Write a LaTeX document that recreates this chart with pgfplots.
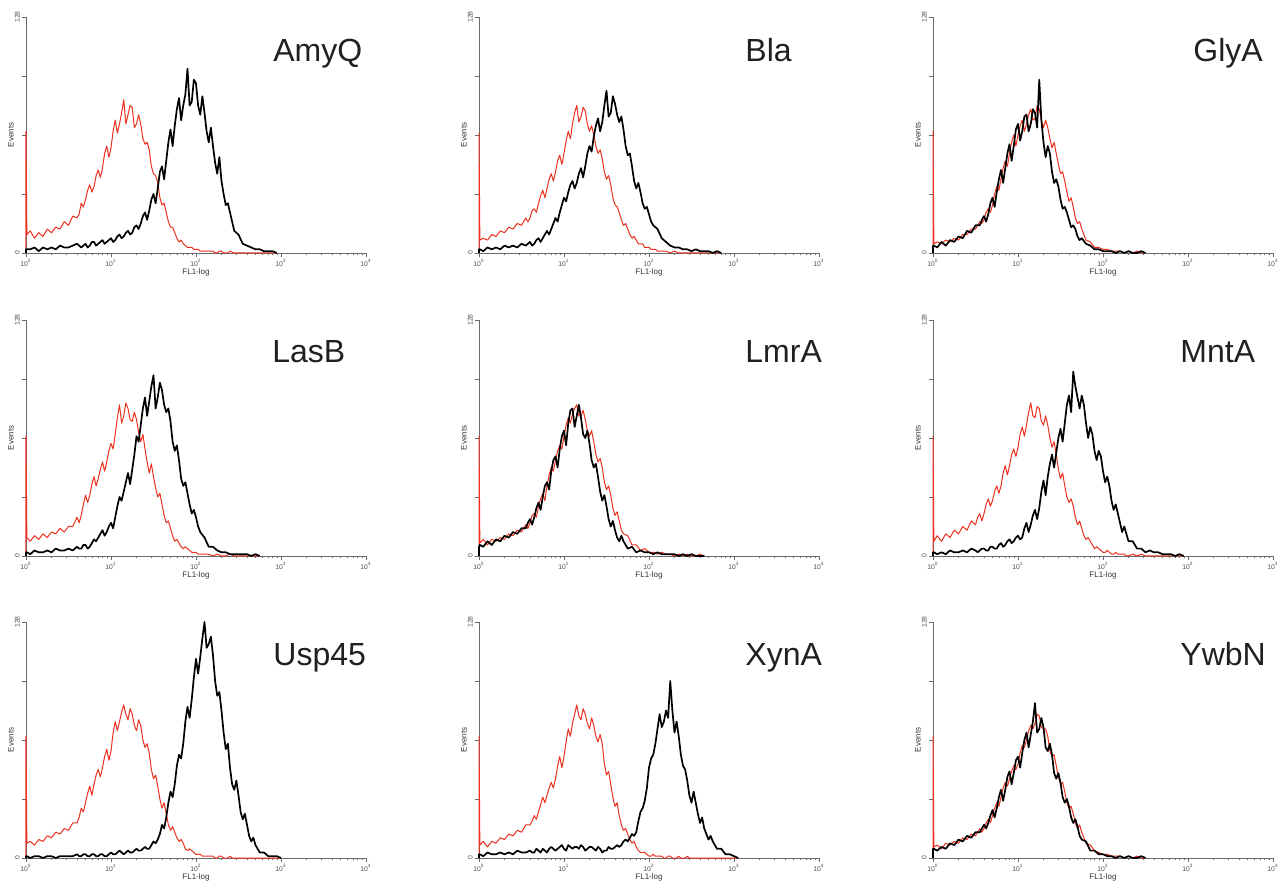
\documentclass[border=0pt]{standalone}
\usepackage{fontspec}
\setmainfont{Liberation Sans}
\usepackage{pgfplots}
\usepackage{pgfplotstable}
\pgfplotsset{compat=1.18}
\definecolor{ctl}{RGB}{235,48,30}
\definecolor{axgray}{RGB}{105,105,105}
\definecolor{ttl}{RGB}{35,31,32}

% columns: log10(FL1), control (red), sample (black)
\pgfplotstableread{
d r b
0 0 0
0 66 2
0.01 10 2
0.05 12 2
0.10 8 3
0.15 11 1
0.20 9 3
0.25 13 2
0.30 11 3
0.35 14 2
0.40 13 4
0.45 17 3
0.50 15 3
0.55 20 4
0.60 19 5
0.625 21 4
0.65 27 3
0.675 25 4
0.70 29 5
0.725 34 3
0.75 37 4
0.775 33 6
0.80 36 6
0.825 42 4
0.85 45 5
0.875 41 6
0.90 46 7
0.925 54 5
0.95 58 6
0.975 52 7
1.00 57 8
1.025 66 6
1.05 72 7
1.075 65 9
1.10 70 10
1.125 76 8
1.15 83 9
1.175 70 11
1.20 75 12
1.225 80 10
1.25 79 11
1.275 68 14
1.30 70 15
1.325 75 13
1.35 70 16
1.375 62 20
1.40 59 22
1.425 60 18
1.45 56 23
1.475 47 29
1.50 43 32
1.525 42 27
1.55 38 35
1.575 30 44
1.60 26 47
1.625 27 40
1.65 22 50
1.675 17 60
1.70 14 67
1.725 14 58
1.75 11 69
1.775 8 78
1.80 6 84
1.825 7 72
1.85 5 80
1.875 4 86
1.90 3 100
1.925 3 80
1.95 3 82
1.975 2 94
2.00 2 92
2.025 2 80
2.05 1 75
2.075 1 85
2.10 1 76
2.125 1 66
2.15 1 60
2.175 1 68
2.20 1 58
2.225 0 49
2.25 0 43
2.275 1 52
2.30 1 39
2.325 0 32
2.35 0 26
2.375 0 27
2.40 1 22
2.45 0 12
2.50 0 10
2.55 0 5
2.60 0 4
2.65 0 3
2.70 0 2
2.75 0 2
2.80 0 1
2.85 0 1
2.90 0 1
2.95 0 0
}\tAmyQ

\pgfplotstableread{
d r b
0 0 0
0 65 2
0.01 7 2
0.05 8 1
0.10 7 3
0.15 10 2
0.20 9 3
0.25 12 2
0.30 11 4
0.35 14 3
0.40 13 4
0.45 16 3
0.50 15 5
0.55 19 4
0.575 17 5
0.60 19 6
0.625 23 4
0.65 24 5
0.675 22 7
0.70 27 8
0.725 31 6
0.75 34 8
0.775 30 10
0.80 35 12
0.825 40 10
0.85 43 13
0.875 39 16
0.90 44 19
0.925 50 17
0.95 53 22
0.975 48 26
1.00 54 30
1.025 61 28
1.05 66 33
1.075 62 37
1.10 70 39
1.125 76 35
1.15 80 38
1.175 71 43
1.20 74 46
1.225 79 41
1.25 77 47
1.275 70 54
1.30 66 58
1.325 69 55
1.35 64 63
1.375 58 69
1.40 54 73
1.425 56 66
1.45 51 71
1.475 44 80
1.50 40 88
1.525 42 74
1.55 37 76
1.575 30 85
1.60 26 81
1.625 25 75
1.65 22 71
1.675 18 74
1.70 15 67
1.725 16 58
1.75 13 53
1.775 10 54
1.80 8 47
1.825 9 39
1.85 7 35
1.875 5 38
1.90 5 33
1.925 5 27
1.95 3 24
1.975 3 25
2.00 3 21
2.025 2 17
2.05 2 15
2.075 2 14
2.10 1 13
2.15 1 8
2.20 1 6
2.25 0 4
2.30 1 3
2.35 0 3
2.40 0 2
2.45 0 2
2.50 0 1
2.55 0 2
2.60 0 1
2.65 0 1
2.70 0 1
2.75 0 0
2.80 0 1
2.85 0 0
}\tBla

\pgfplotstableread{
d r b
0 0 0
0 66 4
0.01 5 4
0.05 6 3
0.10 5 6
0.15 7 4
0.20 6 7
0.25 8 6
0.30 7 9
0.35 10 8
0.40 10 12
0.45 13 11
0.50 13 15
0.55 17 15
0.575 16 18
0.60 18 20
0.625 22 17
0.65 24 21
0.675 22 27
0.70 26 30
0.725 32 25
0.75 36 33
0.775 34 40
0.80 40 45
0.825 46 38
0.85 50 46
0.875 47 54
0.90 54 59
0.925 60 50
0.95 64 58
0.975 58 67
1.00 64 70
1.025 69 61
1.05 72 66
1.075 66 74
1.10 70 75
1.125 75 66
1.15 78 70
1.175 72 78
1.20 73 76
1.225 80 68
1.25 78 94
1.275 72 72
1.30 68 60
1.325 72 52
1.35 68 58
1.375 62 54
1.40 57 44
1.425 60 38
1.45 54 40
1.475 48 36
1.50 43 29
1.525 44 24
1.55 39 25
1.575 33 22
1.60 28 18
1.625 30 14
1.65 25 15
1.675 19 13
1.70 16 9
1.725 17 7
1.75 13 8
1.80 7 5
1.85 6 4
1.90 3 2
1.95 3 2
2.00 2 1
2.05 2 1
2.10 1 1
2.15 1 0
2.20 1 1
2.25 0 0
2.30 1 1
2.35 0 0
2.40 1 0
2.45 0 1
2.50 0 0
}\tGlyA

\pgfplotstableread{
d r b
0 0 0
0 65 2
0.01 10 2
0.05 8 1
0.10 11 3
0.15 9 2
0.20 12 2
0.25 10 3
0.30 13 2
0.35 12 4
0.40 15 3
0.45 13 3
0.50 16 4
0.55 16 3
0.60 21 5
0.625 18 4
0.65 22 4
0.675 28 6
0.70 33 6
0.725 29 4
0.75 33 5
0.775 39 7
0.80 43 9
0.825 38 8
0.85 42 10
0.875 47 12
0.90 51 14
0.925 46 11
0.95 51 13
0.975 57 16
1.00 61 18
1.025 58 15
1.05 66 21
1.075 75 27
1.10 82 32
1.125 72 30
1.15 76 35
1.175 83 40
1.20 80 45
1.225 74 39
1.25 73 47
1.275 78 55
1.30 74 65
1.325 67 62
1.35 62 71
1.375 66 80
1.40 58 86
1.425 51 76
1.45 45 84
1.475 50 92
1.50 43 98
1.525 37 80
1.55 32 86
1.575 34 94
1.60 28 90
1.625 22 82
1.65 18 78
1.675 19 80
1.70 15 73
1.725 11 62
1.75 8 57
1.775 9 60
1.80 7 52
1.825 5 42
1.85 4 38
1.875 5 40
1.90 4 34
1.925 3 28
1.95 2 23
1.975 2 25
2.00 2 21
2.025 1 16
2.05 1 13
2.10 1 10
2.15 1 5
2.20 0 5
2.25 1 3
2.30 0 2
2.35 0 2
2.40 1 1
2.45 0 1
2.50 0 1
2.55 0 1
2.60 0 1
2.65 0 0
2.70 0 1
2.75 0 0
}\tLasB

\pgfplotstableread{
d r b
0 0 0
0 65 5
0.01 7 6
0.05 9 5
0.10 6 8
0.15 9 6
0.20 8 9
0.25 10 8
0.30 9 11
0.35 12 10
0.40 11 13
0.45 14 12
0.50 13 15
0.55 17 15
0.575 15 18
0.60 18 20
0.625 22 17
0.65 23 21
0.675 21 26
0.70 27 29
0.725 31 25
0.75 34 32
0.775 30 38
0.80 38 40
0.825 44 36
0.85 48 46
0.875 46 52
0.90 52 54
0.925 57 48
0.95 60 58
0.975 58 65
1.00 65 68
1.025 71 60
1.05 75 72
1.075 72 79
1.10 77 80
1.125 80 70
1.15 82 76
1.175 76 82
1.20 76 75
1.225 79 66
1.25 74 64
1.275 68 68
1.30 65 61
1.325 68 52
1.35 62 48
1.375 55 50
1.40 51 43
1.425 53 35
1.45 48 30
1.475 40 33
1.50 36 27
1.525 38 20
1.55 33 16
1.575 26 19
1.60 22 14
1.625 24 10
1.65 19 8
1.675 14 11
1.70 12 8
1.75 11 4
1.80 6 5
1.85 6 2
1.90 3 3
1.95 4 2
2.00 2 2
2.05 2 1
2.10 1 2
2.15 2 1
2.20 1 1
2.25 1 1
2.30 0 1
2.35 1 0
2.40 0 1
2.45 1 0
2.50 0 1
2.55 0 0
2.60 1 0
2.65 0 0
}\tLmrA

\pgfplotstableread{
d r b
0 0 0
0 65 2
0.01 8 2
0.05 11 1
0.10 8 2
0.15 12 1
0.20 10 3
0.25 14 2
0.30 12 2
0.35 16 3
0.40 14 2
0.45 19 4
0.50 17 3
0.525 21 2
0.55 23 3
0.575 19 4
0.60 23 4
0.625 28 3
0.65 31 3
0.675 27 5
0.70 30 5
0.725 35 4
0.75 38 4
0.775 34 6
0.80 38 7
0.825 45 5
0.85 49 6
0.875 44 8
0.90 49 9
0.925 55 7
0.95 58 8
0.975 54 10
1.00 59 11
1.025 66 9
1.05 70 10
1.075 65 15
1.10 71 18
1.125 78 13
1.15 83 17
1.175 76 22
1.20 75 25
1.225 81 20
1.25 80 26
1.275 73 35
1.30 71 41
1.325 76 33
1.35 71 43
1.375 64 50
1.40 59 55
1.425 62 48
1.45 55 56
1.475 47 64
1.50 42 69
1.525 45 62
1.55 38 72
1.575 32 82
1.60 29 87
1.625 31 78
1.65 27 100
1.675 21 92
1.70 17 86
1.725 19 80
1.75 15 87
1.775 11 82
1.80 9 72
1.825 10 64
1.85 8 70
1.875 6 66
1.90 4 57
1.925 5 52
1.95 4 57
1.975 3 54
2.00 2 46
2.025 2 40
2.05 3 43
2.075 2 38
2.10 1 30
2.125 1 25
2.15 2 28
2.175 1 23
2.20 1 18
2.225 1 13
2.25 1 16
2.275 0 12
2.30 0 8
2.35 1 8
2.40 0 4
2.45 1 4
2.50 0 2
2.55 0 3
2.60 0 2
2.65 0 2
2.70 0 1
2.75 0 1
2.80 0 1
2.85 0 0
2.90 0 1
2.95 0 0
}\tMntA

\pgfplotstableread{
d r b
0 0 0
0 66 1
0.01 8 1
0.05 9 0
0.10 7 1
0.15 10 1
0.20 9 0
0.25 12 1
0.30 11 1
0.35 14 0
0.40 13 1
0.45 16 1
0.50 15 1
0.55 19 1
0.60 19 2
0.625 22 1
0.65 27 1
0.675 25 2
0.70 30 2
0.725 35 1
0.75 39 1
0.775 34 2
0.80 40 2
0.825 45 1
0.85 48 1
0.875 44 2
0.90 49 2
0.925 55 1
0.95 59 1
0.975 53 2
1.00 58 3
1.025 68 2
1.05 74 2
1.075 69 3
1.10 74 4
1.125 79 3
1.15 83 2
1.175 78 3
1.20 75 4
1.225 81 3
1.25 78 3
1.275 72 4
1.30 69 5
1.325 75 4
1.35 72 4
1.375 64 5
1.40 60 6
1.425 62 5
1.45 57 5
1.475 48 7
1.50 43 9
1.525 45 8
1.55 39 10
1.575 32 13
1.60 27 18
1.625 30 16
1.65 24 22
1.675 18 30
1.70 15 36
1.725 17 33
1.75 14 40
1.775 11 50
1.80 9 56
1.825 10 54
1.85 8 62
1.875 5 74
1.90 4 82
1.925 5 76
1.95 4 86
1.975 3 98
2.00 2 108
2.025 2 100
2.05 2 109
2.075 1 119
2.10 1 128
2.125 1 114
2.15 1 116
2.175 1 120
2.20 1 110
2.225 0 96
2.25 0 88
2.275 1 90
2.30 1 80
2.325 0 68
2.35 0 59
2.375 0 62
2.40 1 49
2.425 0 40
2.45 0 37
2.475 0 42
2.50 0 34
2.525 0 25
2.55 0 21
2.575 0 24
2.60 0 18
2.625 0 12
2.65 0 9
2.675 0 11
2.70 0 7
2.75 0 3
2.80 0 3
2.85 0 1
2.90 0 1
2.95 0 1
3.00 0 0
}\tUsp

\pgfplotstableread{
d r b
0 0 0
0 66 2
0.01 7 2
0.05 9 1
0.10 6 3
0.15 9 2
0.20 8 2
0.25 11 3
0.30 10 2
0.35 13 3
0.40 12 2
0.45 15 4
0.50 14 3
0.55 18 3
0.60 18 4
0.625 20 3
0.65 23 3
0.675 21 5
0.70 25 4
0.725 29 3
0.75 33 5
0.775 30 4
0.80 34 3
0.825 38 5
0.85 41 6
0.875 38 5
0.90 43 4
0.925 50 5
0.95 55 6
0.975 49 7
1.00 55 5
1.025 63 4
1.05 70 7
1.075 66 6
1.10 73 5
1.125 78 6
1.15 83 6
1.175 77 5
1.20 75 7
1.225 81 6
1.25 78 4
1.275 73 5
1.30 70 6
1.325 76 6
1.35 72 5
1.375 66 4
1.40 63 6
1.425 67 5
1.45 62 3
1.475 51 4
1.50 45 4
1.525 47 6
1.55 40 5
1.575 33 5
1.60 28 6
1.625 30 7
1.65 23 6
1.675 18 7
1.70 15 9
1.725 16 10
1.75 13 9
1.775 10 11
1.80 8 13
1.825 9 12
1.85 6 14
1.875 4 20
1.90 3 25
1.925 3 27
1.95 3 31
1.975 2 38
2.00 1 49
2.025 1 54
2.05 2 56
2.075 1 62
2.10 1 70
2.125 1 78
2.15 1 71
2.175 0 74
2.20 0 80
2.225 1 76
2.25 1 96
2.275 0 80
2.30 0 68
2.325 0 74
2.35 1 66
2.375 0 56
2.40 0 50
2.425 0 48
2.45 1 42
2.475 0 34
2.50 0 30
2.525 0 36
2.55 0 30
2.575 0 24
2.60 0 19
2.625 0 22
2.65 0 16
2.675 0 13
2.70 0 10
2.725 0 12
2.75 0 9
2.80 0 5
2.85 0 5
2.90 0 2
2.95 0 2
3.00 0 1
3.05 0 0
}\tXynA

\pgfplotstableread{
d r b
0 0 0
0 66 5
0.01 6 5
0.05 7 4
0.10 5 6
0.15 8 5
0.20 7 8
0.25 9 7
0.30 8 10
0.35 11 9
0.40 10 12
0.45 13 11
0.50 12 14
0.55 16 14
0.575 14 16
0.60 16 18
0.625 19 16
0.65 21 19
0.675 19 23
0.70 23 26
0.725 27 22
0.75 30 27
0.775 28 33
0.80 33 37
0.825 38 31
0.85 41 37
0.875 39 44
0.90 43 47
0.925 47 40
0.95 50 46
0.975 48 53
1.00 51 55
1.025 57 49
1.05 61 57
1.075 60 64
1.10 64 68
1.125 69 60
1.15 72 67
1.175 70 74
1.20 73 84
1.225 78 68
1.25 77 70
1.275 71 76
1.30 70 71
1.325 70 60
1.35 66 58
1.375 58 62
1.40 55 56
1.425 56 46
1.45 50 43
1.475 44 46
1.50 40 41
1.525 41 33
1.55 36 30
1.575 30 32
1.60 27 28
1.625 28 22
1.65 24 19
1.675 19 21
1.70 16 17
1.725 18 12
1.75 14 10
1.80 8 9
1.85 7 4
1.90 4 4
1.95 3 2
2.00 2 2
2.05 2 1
2.10 1 1
2.15 1 0
2.20 1 1
2.25 0 0
2.30 1 1
2.35 0 0
2.40 1 0
2.45 0 1
2.50 0 0
}\tYwbN

\pgfplotsset{facs/.style={
  scale only axis, width=170pt, height=118pt, anchor=south west,
  xmin=0, xmax=4, ymin=0, ymax=128, clip=false,
  axis x line*=bottom, axis y line*=left,
  axis line style={axgray, line width=0.45pt},
  xtick={0,1,2,3,4},
  xticklabels={10\textsuperscript{0},10\textsuperscript{1},10\textsuperscript{2},10\textsuperscript{3},10\textsuperscript{4}},
  minor xtick={0.301,0.477,0.602,0.699,0.778,0.845,0.903,0.954,
               1.301,1.477,1.602,1.699,1.778,1.845,1.903,1.954,
               2.301,2.477,2.602,2.699,2.778,2.845,2.903,2.954,
               3.301,3.477,3.602,3.699,3.778,3.845,3.903,3.954},
  ytick={0,32,64,96,128}, yticklabels={0,,,,128},
  tick align=outside, major tick length=2pt, minor tick length=1.2pt,
  every tick/.style={axgray, line width=0.35pt},
  every minor tick/.style={axgray, line width=0.3pt},
  tick label style={font=\fontsize{3.4}{3.8}\selectfont, text=black!70, inner sep=1pt},
  yticklabel style={rotate=90, anchor=south},
  xlabel={FL1-log}, ylabel={Events},
  label style={font=\fontsize{4}{4.6}\selectfont, text=black!80},
  xlabel style={yshift=3.5pt},
  ylabel style={yshift=-4pt},
}}
\newcommand{\ctlplot}[1]{\addplot[ctl, line width=0.5pt, line join=round] table[x=d, y=r] {#1};}
\newcommand{\smpplot}[1]{\addplot[black, line width=0.85pt, line join=round] table[x=d, y=b] {#1};}

\begin{document}
\begin{tikzpicture}
\path[use as bounding box] (0,0) rectangle (642.5pt,-440.5pt);

\begin{axis}[facs, at={(13pt,-126.5pt)}]
\ctlplot{\tAmyQ}\smpplot{\tAmyQ}
\end{axis}
\begin{axis}[facs, at={(239.5pt,-126.5pt)}]
\ctlplot{\tBla}\smpplot{\tBla}
\end{axis}
\begin{axis}[facs, at={(466.5pt,-126.5pt)}]
\ctlplot{\tGlyA}\smpplot{\tGlyA}
\end{axis}

\begin{axis}[facs, at={(13pt,-278pt)}]
\ctlplot{\tLasB}\smpplot{\tLasB}
\end{axis}
\begin{axis}[facs, at={(239.5pt,-278pt)}]
\ctlplot{\tLmrA}\smpplot{\tLmrA}
\end{axis}
\begin{axis}[facs, at={(466.5pt,-278pt)}]
\ctlplot{\tMntA}\smpplot{\tMntA}
\end{axis}

\begin{axis}[facs, at={(13pt,-429pt)}]
\ctlplot{\tUsp}\smpplot{\tUsp}
\end{axis}
\begin{axis}[facs, at={(239.5pt,-429pt)}]
\ctlplot{\tXynA}\smpplot{\tXynA}
\end{axis}
\begin{axis}[facs, at={(466.5pt,-429pt)}]
\ctlplot{\tYwbN}\smpplot{\tYwbN}
\end{axis}

\begin{scope}[every node/.style={anchor=base west, inner sep=0pt, text=ttl, font=\fontsize{16}{16}\selectfont}]
\node at (136.5pt,-31pt) {AmyQ};
\node at (372.5pt,-31pt) {Bla};
\node at (596.5pt,-31pt) {GlyA};
\node at (136pt,-181.5pt) {LasB};
\node at (372.5pt,-181.5pt) {LmrA};
\node at (590pt,-181.5pt) {MntA};
\node at (136.5pt,-332.5pt) {Usp45};
\node at (372.5pt,-332.5pt) {XynA};
\node at (590pt,-332.5pt) {YwbN};
\end{scope}
\end{tikzpicture}
\end{document}
